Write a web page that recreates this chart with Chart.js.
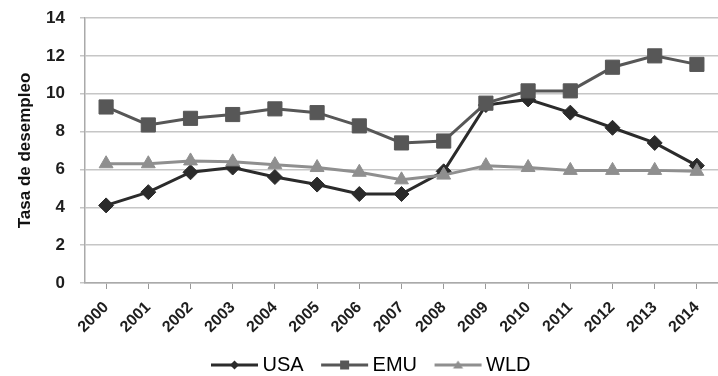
<!DOCTYPE html>
<html lang="es">
<head>
    <meta charset="UTF-8">
    <title>Tasa de desempleo</title>
    <script src="https://cdn.jsdelivr.net/npm/chart.js"></script>
    <style>
        html, body { margin: 0; padding: 0; background: #fff; }
        #wrap { width: 718px; height: 376px; }
    </style>
</head>
<body>
    <div id="wrap">
        <canvas id="myChart"></canvas>
    </div>

    <script>
        const years = ['2000', '2001', '2002', '2003', '2004', '2005', '2006', '2007',
                       '2008', '2009', '2010', '2011', '2012', '2013', '2014'];
        const usa = [4.1, 4.8, 5.85, 6.1, 5.6, 5.2, 4.7, 4.7, 5.9, 9.4, 9.7, 9.0, 8.2, 7.4, 6.2];
        const emu = [9.3, 8.35, 8.7, 8.9, 9.2, 9.0, 8.3, 7.4, 7.5, 9.5, 10.15, 10.15, 11.4, 12.0, 11.55];
        const wld = [6.3, 6.3, 6.45, 6.4, 6.25, 6.1, 5.85, 5.45, 5.7, 6.2, 6.1, 5.95, 5.95, 5.95, 5.9];

        // legend icon: line with the marker in the middle (blank space on the left = gap between items)
        function legendIcon(color, shape) {
            const c = document.createElement('canvas');
            c.width = 80; c.height = 14;
            const g = c.getContext('2d');
            g.strokeStyle = color;
            g.fillStyle = color;
            g.lineWidth = 3;
            g.beginPath(); g.moveTo(28, 7); g.lineTo(75, 7); g.stroke();
            const cx = 51.5;
            g.beginPath();
            if (shape === 'diamond') {
                g.moveTo(cx, 2.5); g.lineTo(cx + 4.5, 7); g.lineTo(cx, 11.5); g.lineTo(cx - 4.5, 7);
            } else if (shape === 'square') {
                g.rect(cx - 4.5, 2.5, 9, 9);
            } else {
                g.moveTo(cx, 2.5); g.lineTo(cx + 5, 10.5); g.lineTo(cx - 5, 10.5);
            }
            g.closePath(); g.fill();
            return c;
        }

        const series = [
            { label: 'USA', data: usa, color: '#2b2b2b', style: 'rectRot', radius: 7.5, icon: 'diamond' },
            { label: 'EMU', data: emu, color: '#575757', style: 'rect', radius: 10, icon: 'square' },
            { label: 'WLD', data: wld, color: '#8f8f8f', style: 'triangle', radius: 8, icon: 'triangle' }
        ];

        const ctx = document.getElementById('myChart').getContext('2d');
        new Chart(ctx, {
            type: 'line',
            data: {
                labels: years,
                // WLD drawn on top, as in the original
                datasets: series.map(s => ({
                    label: s.label,
                    data: s.data,
                    borderColor: s.color,
                    backgroundColor: s.color,
                    borderWidth: 3,
                    pointStyle: s.style,
                    pointRadius: s.radius,
                    pointBorderWidth: 1,
                    tension: 0,
                    fill: false,
                    clip: false
                })).reverse()
            },
            options: {
                responsive: true,
                maintainAspectRatio: false,
                animation: false,
                layout: { autoPadding: false, padding: { top: 18, right: -6, left: 0, bottom: -9 } },
                plugins: {
                    tooltip: { enabled: false },
                    legend: {
                        position: 'bottom',
                        labels: {
                            usePointStyle: true,
                            pointStyleWidth: 59,
                            padding: 0,
                            color: '#111',
                            font: { family: 'Liberation Sans', size: 20 },
                            generateLabels: chart => series.map((s, i) => ({
                                text: s.label,
                                pointStyle: legendIcon(s.color, s.icon),
                                fillStyle: s.color,
                                strokeStyle: s.color,
                                lineWidth: 0,
                                hidden: false,
                                datasetIndex: series.length - 1 - i
                            }))
                        }
                    }
                },
                scales: {
                    x: {
                        offset: true,
                        afterFit: scale => {
                            scale.height = 72;
                            scale.paddingLeft = 0;
                            scale.paddingRight = 0;
                        },
                        grid: {
                            drawOnChartArea: false,
                            drawTicks: true,
                            tickLength: 6,
                            color: '#999'
                        },
                        border: { color: '#aaa', width: 1.5 },
                        ticks: {
                            minRotation: 45,
                            maxRotation: 45,
                            color: '#1e1e1e',
                            padding: 9,
                            font: { family: 'Liberation Sans', size: 16, weight: 'bold' }
                        }
                    },
                    y: {
                        min: 0,
                        max: 14,
                        afterFit: scale => {
                            scale.width = 85;
                            scale.paddingTop = 0;
                            scale.paddingBottom = 0;
                        },
                        ticks: {
                            stepSize: 2,
                            color: '#1e1e1e',
                            padding: 15,
                            font: { family: 'Liberation Sans', size: 17, weight: 'bold' }
                        },
                        grid: { color: '#c6c6c6', lineWidth: 1.5, tickLength: 5 },
                        border: { color: '#aaa', width: 1.5 },
                        title: {
                            display: true,
                            text: 'Tasa de desempleo',
                            color: '#111',
                            padding: { top: 15, bottom: 0 },
                            font: { family: 'Liberation Sans', size: 17, weight: 'bold' }
                        }
                    }
                }
            }
        });
    </script>
</body>
</html>
